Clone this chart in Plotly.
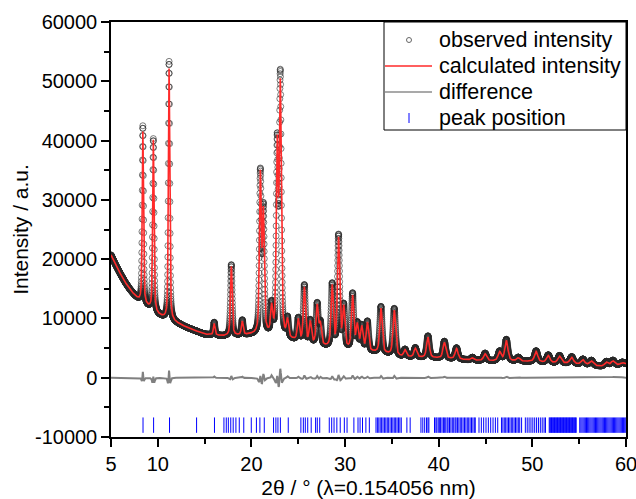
import numpy as np
import plotly.graph_objects as go

# ---------------- data ----------------
# background knots (2theta, intensity)
bg_t = [5, 5.5, 6, 6.5, 7, 7.5, 8, 9, 10, 11, 12, 13, 14, 15, 17, 19, 20, 22, 24, 26, 28,
        30, 32, 34, 36, 38, 40, 42, 44, 46, 48, 50, 52, 54, 56, 57.5, 59, 60]
bg_i = [20700, 19000, 17500, 16100, 14900, 13900, 13000, 11800, 10600, 9700, 9200, 8500,
        7900, 7300, 7000, 7100, 7200, 7000, 6400, 5700, 5100, 4700, 4400, 4100, 3500, 3400,
        3300, 3100, 2900, 2800, 2800, 2700, 2500, 2400, 2100, 1900, 2100, 2300]

# reflections: position, observed top, calculated top
peak_pos = [8.40, 9.52, 11.20, 16.02, 17.85, 19.02, 20.95, 21.27, 22.15, 22.75, 23.08, 23.85,
            25.00, 25.65, 26.28, 27.02, 27.35, 28.62, 29.30, 29.85, 30.80, 31.30, 31.78, 32.38,
            33.83, 35.25, 36.40, 37.50, 38.85, 40.60, 41.90, 43.60, 44.95, 46.50, 47.22, 48.50,
            50.40, 51.70, 52.90, 54.20, 55.40, 56.30, 57.90, 58.60, 59.60]
obs_top = [42400, 40200, 53300, 9300, 19000, 9600, 34000, 27800, 11800, 38500, 50000, 9600,
           9800, 15400, 9400, 12200, 9000, 15500, 23700, 11800, 13900, 8800, 8500, 9300,
           11900, 11600, 4700, 5000, 7000, 6100, 5000, 3400, 4100, 4400, 6400, 3400,
           4500, 3800, 3700, 3500, 3100, 2900, 2700, 2900, 2600]
calc_top = [41400, 40000, 52100, 9100, 18700, 9400, 33600, 27000, 11300, 38000, 48300, 9300,
            9600, 15000, 9200, 11900, 8800, 15200, 23200, 11500, 13500, 8600, 8300, 9100,
            11600, 11300, 4600, 4900, 6800, 5900, 4900, 3300, 4000, 4300, 6200, 3300,
            4400, 3700, 3600, 3400, 3000, 2800, 2600, 2800, 2500]

# Bragg reflection markers
tick_pos = [8.42, 9.55, 11.25, 14.14, 16.05, 17.06, 17.31, 17.53, 17.79, 18.05, 18.34, 18.70,
            19.18, 19.98, 20.53, 20.90, 21.37, 22.36, 22.61, 22.83, 23.09, 23.93, 25.28, 25.54,
            25.75, 26.01, 26.38, 26.85, 27.03, 27.29, 28.31, 28.57, 28.82, 29.12, 29.48, 29.92,
            30.21, 30.94, 31.38, 31.60, 31.86, 32.22, 32.59, 33.30, 33.45, 33.60, 33.75, 33.90,
            34.05, 34.20, 34.35, 34.50, 34.62, 34.80, 34.95, 35.10, 35.25, 35.40, 35.55, 35.70,
            35.85, 36.00, 36.60, 36.95, 38.10, 38.30, 38.50, 38.70, 38.85, 38.95, 39.55, 39.70,
            39.80, 39.95, 40.10, 40.20, 40.35, 40.50, 40.60, 40.75, 40.90, 41.00, 41.15, 41.30,
            41.45, 41.60, 41.75, 41.85, 42.00, 42.15, 42.30, 42.45, 42.60, 42.75, 42.90, 43.05,
            43.20, 43.35, 43.50, 43.65, 43.80, 43.90, 44.30, 44.55, 44.80, 45.05, 45.30, 45.55,
            45.80, 46.05, 46.30, 46.70, 46.85, 47.00, 47.15, 47.30, 47.45, 47.60, 47.75, 47.90,
            48.05, 48.20, 48.35, 48.50, 48.65, 48.85, 49.25, 49.45, 49.65, 49.85, 50.05, 50.25,
            50.45, 50.65, 50.85, 51.05, 51.25, 51.40, 51.80, 51.88, 51.96, 52.04, 52.12, 52.20,
            52.28, 52.36, 52.44, 52.52, 52.60, 52.68, 52.76, 52.84, 52.92, 53.00, 53.08, 53.16,
            53.24, 53.32, 53.40, 53.48, 53.56, 53.64, 53.72, 53.80, 53.88, 53.96, 54.04, 54.12,
            54.20, 54.28, 54.36, 54.44, 54.52, 54.60, 54.68, 55.06, 55.18, 55.30, 55.42, 55.54,
            55.66, 55.78, 55.90, 56.02, 56.14, 56.26, 56.38, 56.50, 56.62, 56.74, 56.86, 56.98,
            57.10, 57.22, 57.34, 57.46, 57.58, 57.70, 57.82, 57.94, 58.06, 58.18, 58.30, 58.42,
            58.54, 58.66, 58.78, 58.90, 59.02, 59.14, 59.26, 59.38, 59.50, 59.62, 59.74, 59.86,
            59.98]

x_ticks = [5, 10, 20, 30, 40, 50, 60]
x_minor = [15, 25, 35, 45, 55]
y_ticks = [-10000, 0, 10000, 20000, 30000, 40000, 50000, 60000]
y_ticktext = ["-10000", "0", "10000", "20000", "30000", "40000", "50000", "60000"]
legend_labels = ["observed intensity", "calculated intensity", "difference", "peak position"]

# ---------------- profile construction ----------------
tt = np.round(np.arange(5.0, 60.0001, 0.01), 4)
bg = np.interp(tt, bg_t, bg_i)


def pv(x, x0, fwhm, eta=0.5):
    d = (x - x0) / (fwhm / 2)
    return eta / (1 + d ** 2) + (1 - eta) * np.exp(-np.log(2) * d ** 2)


obs = bg.copy()
calc = bg.copy()
for p, o, c in zip(peak_pos, obs_top, calc_top):
    b = float(np.interp(p, bg_t, bg_i))
    w = 0.14 + 0.006 * (p - 5)
    obs += (o - b) * pv(tt, p, w * 0.95)
    calc += (c - b) * pv(tt, p, w)
diff = obs - calc

# ---------------- figure ----------------
FONT = "Liberation Sans, Arial, sans-serif"
OBS_COLOR = "rgba(40,40,40,0.6)"
CALC_COLOR = "#ff2a2a"
DIFF_COLOR = "#808080"
TICK_COLOR = "#0000ff"

fig = go.Figure()
fig.add_trace(go.Scatter(x=tt, y=obs, mode="markers", name=legend_labels[0], showlegend=False,
                         marker=dict(symbol="circle-open", size=6, color=OBS_COLOR,
                                     line=dict(width=1))))
fig.add_trace(go.Scatter(x=tt, y=calc, mode="lines", name=legend_labels[1], showlegend=False,
                         line=dict(color=CALC_COLOR, width=1.6)))
fig.add_trace(go.Scatter(x=tt, y=diff, mode="lines", name=legend_labels[2], showlegend=False,
                         line=dict(color=DIFF_COLOR, width=2)))
fig.add_trace(go.Scatter(x=tick_pos, y=[-8000] * len(tick_pos), mode="markers",
                         name=legend_labels[3], showlegend=False,
                         marker=dict(symbol="line-ns", size=11,
                                     line=dict(color=TICK_COLOR, width=1))))

axis_common = dict(showline=True, linecolor="black", linewidth=1.5, mirror=True,
                   ticks="outside", tickcolor="black", tickwidth=1.5, showgrid=False,
                   zeroline=False, automargin=False, ticklabeloverflow="allow",
                   tickfont=dict(family=FONT, size=20, color="black"))
fig.update_xaxes(range=[5, 60], tickvals=x_ticks, ticklen=8,
                 minor=dict(tickvals=x_minor, ticklen=5, ticks="outside", tickcolor="black",
                            tickwidth=1.5),
                 title=dict(text="2θ / ° (λ=0.154056 nm)", font=dict(family=FONT, size=21,
                                                                     color="black"),
                            standoff=8),
                 **axis_common)
fig.update_yaxes(range=[-10000, 60000], tickvals=y_ticks, ticktext=y_ticktext, ticklen=8,
                 minor=dict(dtick=5000, ticklen=5, ticks="outside", tickcolor="black",
                            tickwidth=1.5),
                 title=dict(text="Intensity / a.u.", font=dict(family=FONT, size=21,
                                                               color="black"),
                            standoff=1),
                 **axis_common)

# ---- hand-built legend box (paper coordinates) ----
W, H = 515.0, 415.0           # plot area size in px
bx0 = 1 - 242 / W             # legend left edge
by0 = 1 - 108 / H             # legend bottom edge
shapes = [dict(type="rect", xref="paper", yref="paper", x0=bx0, x1=1, y0=by0, y1=1,
               line=dict(color="black", width=1), fillcolor="white", layer="above")]
row_y = [1 - (18 + 26 * k) / H for k in range(4)]
sx0, sx1, sxc = bx0 + 1 / W, bx0 + 48 / W, bx0 + 25 / W
# observed: small open circle
shapes.append(dict(type="circle", xref="paper", yref="paper", x0=sxc - 2.5 / W,
                   x1=sxc + 2.5 / W, y0=row_y[0] - 2.5 / H, y1=row_y[0] + 2.5 / H,
                   line=dict(color="#666666", width=1), layer="above"))
# calculated: red line
shapes.append(dict(type="line", xref="paper", yref="paper", x0=sx0, x1=sx1, y0=row_y[1],
                   y1=row_y[1], line=dict(color=CALC_COLOR, width=1.6), layer="above"))
# difference: gray line
shapes.append(dict(type="line", xref="paper", yref="paper", x0=sx0, x1=sx1, y0=row_y[2],
                   y1=row_y[2], line=dict(color="#555555", width=1.2), layer="above"))
# peak position: short blue tick
shapes.append(dict(type="line", xref="paper", yref="paper", x0=sxc, x1=sxc,
                   y0=row_y[3] - 5 / H, y1=row_y[3] + 5 / H,
                   line=dict(color=TICK_COLOR, width=1), layer="above"))
annotations = [dict(xref="paper", yref="paper", x=bx0 + 53 / W, y=ry, text=lab,
                    showarrow=False, xanchor="left", yanchor="middle",
                    font=dict(family=FONT, size=21.5, color="black"))
               for ry, lab in zip(row_y, legend_labels)]

fig.update_layout(width=636, height=499, margin=dict(l=111, r=10, t=22, b=62),
                  paper_bgcolor="white", plot_bgcolor="white",
                  font=dict(family=FONT, color="black"), showlegend=False,
                  shapes=shapes, annotations=annotations)
fig.write_html("out.html")
